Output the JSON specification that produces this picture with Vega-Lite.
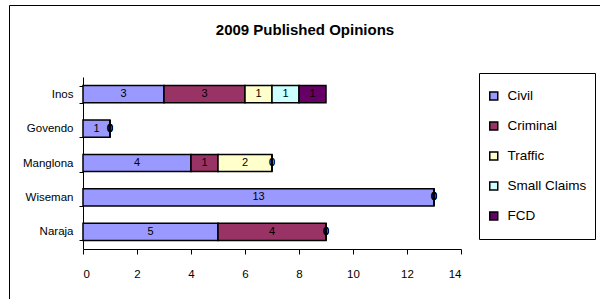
{
  "$schema": "https://vega.github.io/schema/vega-lite/v6.json",
  "width": 592,
  "height": 294,
  "autosize": {"type": "none"},
  "padding": {"left": 9, "top": 5, "right": 0, "bottom": 0},
  "background": "white",
  "title": {
    "text": "2009 Published Opinions",
    "font": "Liberation Sans",
    "fontSize": 15,
    "fontWeight": "bold",
    "color": "black",
    "anchor": "middle",
    "frame": "group",
    "baseline": "alphabetic",
    "offset": -30,
    "dy": 21
  },
  "config": {
    "view": {"stroke": "black", "strokeWidth": 1},
    "axis": {"grid": false}
  },
  "data": {
    "values": [
      {"judge": "Inos", "type": "Civil", "n": 3, "k": 1},
      {"judge": "Inos", "type": "Criminal", "n": 3, "k": 2},
      {"judge": "Inos", "type": "Traffic", "n": 1, "k": 3},
      {"judge": "Inos", "type": "Small Claims", "n": 1, "k": 4},
      {"judge": "Inos", "type": "FCD", "n": 1, "k": 5},
      {"judge": "Govendo", "type": "Civil", "n": 1, "k": 1},
      {"judge": "Govendo", "type": "Criminal", "n": 0, "k": 2},
      {"judge": "Govendo", "type": "Traffic", "n": 0, "k": 3},
      {"judge": "Govendo", "type": "Small Claims", "n": 0, "k": 4},
      {"judge": "Govendo", "type": "FCD", "n": 0, "k": 5},
      {"judge": "Manglona", "type": "Civil", "n": 4, "k": 1},
      {"judge": "Manglona", "type": "Criminal", "n": 1, "k": 2},
      {"judge": "Manglona", "type": "Traffic", "n": 2, "k": 3},
      {"judge": "Manglona", "type": "Small Claims", "n": 0, "k": 4},
      {"judge": "Manglona", "type": "FCD", "n": 0, "k": 5},
      {"judge": "Wiseman", "type": "Civil", "n": 13, "k": 1},
      {"judge": "Wiseman", "type": "Criminal", "n": 0, "k": 2},
      {"judge": "Wiseman", "type": "Traffic", "n": 0, "k": 3},
      {"judge": "Wiseman", "type": "Small Claims", "n": 0, "k": 4},
      {"judge": "Wiseman", "type": "FCD", "n": 0, "k": 5},
      {"judge": "Naraja", "type": "Civil", "n": 5, "k": 1},
      {"judge": "Naraja", "type": "Criminal", "n": 4, "k": 2},
      {"judge": "Naraja", "type": "Traffic", "n": 0, "k": 3},
      {"judge": "Naraja", "type": "Small Claims", "n": 0, "k": 4},
      {"judge": "Naraja", "type": "FCD", "n": 0, "k": 5}
    ]
  },
  "encoding": {
    "y": {
      "field": "judge",
      "type": "nominal",
      "sort": ["Inos", "Govendo", "Manglona", "Wiseman", "Naraja"],
      "scale": {"range": [72, 244], "paddingInner": 0.5, "paddingOuter": 0.25},
      "axis": {
        "title": null,
        "orient": "left",
        "offset": -74,
        "tickBand": "extent",
        "tickSize": 4,
        "labelPadding": 6,
        "domainColor": "black",
        "tickColor": "black",
        "labelColor": "black",
        "labelFont": "Liberation Sans",
        "labelFontSize": 11.5
      }
    },
    "order": {"field": "k", "type": "quantitative"}
  },
  "layer": [
    {
      "mark": {"type": "bar", "stroke": "black", "strokeWidth": 1.5},
      "encoding": {
        "x": {
          "field": "n",
          "type": "quantitative",
          "stack": "zero",
          "scale": {"domain": [0, 14], "range": [74, 452], "nice": false, "zero": true},
          "axis": {
            "title": null,
            "orient": "bottom",
            "offset": -50,
            "values": [0, 2, 4, 6, 8, 10, 12, 14],
            "tickSize": 5,
            "labelPadding": 14,
            "domainColor": "black",
            "tickColor": "black",
            "labelColor": "black",
            "labelFont": "Liberation Sans",
            "labelFontSize": 11.5
          }
        },
        "color": {
          "field": "type",
          "type": "nominal",
          "scale": {
            "domain": ["Civil", "Criminal", "Traffic", "Small Claims", "FCD"],
            "range": ["#9999FF", "#993366", "#FFFFCC", "#CCFFFF", "#660066"]
          },
          "legend": {
            "title": null,
            "orient": "none",
            "legendX": 470,
            "legendY": 68,
            "strokeColor": "black",
            "fillColor": "white",
            "padding": 8,
            "clipHeight": 30,
            "rowPadding": 0,
            "symbolType": "square",
            "symbolSize": 64,
            "symbolStrokeColor": "black",
            "symbolStrokeWidth": 1.5,
            "symbolOffset": 0,
            "labelOffset": 7,
            "labelFont": "Liberation Sans",
            "labelFontSize": 13.5,
            "labelColor": "black"
          }
        }
      }
    },
    {
      "mark": {"type": "text", "font": "Liberation Sans", "fontSize": 11, "color": "black", "baseline": "middle", "align": "center"},
      "encoding": {
        "x": {"field": "n", "type": "quantitative", "stack": "zero", "bandPosition": 0.5},
        "text": {"field": "n", "type": "quantitative"}
      }
    }
  ]
}
